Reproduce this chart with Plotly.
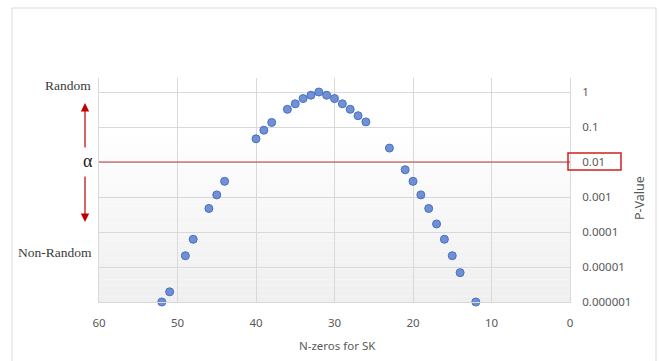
import plotly.graph_objects as go

# ---- data ----
n_zeros = [52, 51, 49, 48, 46, 45, 44, 40, 39, 38, 36, 35, 34, 33, 32,
           31, 30, 29, 28, 27, 26, 23, 21, 20, 19, 18, 17, 16, 15, 14, 12]
p_values = [1e-6, 1.95e-6, 2.1e-5, 6.2e-5, 4.7e-4, 1.15e-3, 2.8e-3,
            0.046, 0.081, 0.135, 0.32, 0.46, 0.65, 0.81, 1.0,
            0.81, 0.65, 0.46, 0.32, 0.21, 0.14, 0.025, 0.006, 0.0028,
            0.00115, 0.00047, 0.00017, 6.2e-5, 2.1e-5, 6.9e-6, 1e-6]
x_ticks = [60, 50, 40, 30, 20, 10, 0]
y_tickvals = [1, 0.1, 0.01, 0.001, 0.0001, 0.00001, 0.000001]
y_ticktext = ["1", "0.1", "0.01", "0.001", "0.0001", "0.00001", "0.000001"]
alpha_level = 0.01

W, H = 659, 361
L, R, T, B = 99, 570, 78, 302  # plot area pixel bounds
pw, ph = R - L, B - T


def px(x):
    return (x - L) / pw


def py(y):
    return (B - y) / ph


fig = go.Figure()
fig.add_trace(go.Scatter(
    x=n_zeros, y=p_values, mode="markers", cliponaxis=False,
    marker=dict(size=8, color="rgba(91,125,205,0.85)",
                line=dict(color="#4472c4", width=1)),
    hoverinfo="skip", showlegend=False))

shapes = []
# vertical gradient background of the plot area
N = 40
for i in range(N):
    t = i / N
    g = int(round(239 + (255 - 239) * min(1.0, t * 1.3)))
    shapes.append(dict(type="rect", xref="x domain", yref="y domain",
                       x0=0, x1=1, y0=i / N, y1=(i + 1) / N, layer="below",
                       line=dict(width=0),
                       fillcolor=f"rgb({g},{g},{g})"))
# alpha line
shapes.append(dict(type="line", xref="x", yref="y", x0=60, x1=0,
                   y0=alpha_level, y1=alpha_level,
                   line=dict(color="#b83c3c", width=1)))
# red box around 0.01
shapes.append(dict(type="rect", xref="paper", yref="paper",
                   x0=px(568), x1=px(621), y0=py(170), y1=py(153),
                   line=dict(color="#d02020", width=1.5)))
# outer chart border
shapes.append(dict(type="rect", xref="paper", yref="paper",
                   x0=px(12), x1=px(656), y0=py(366), y1=py(8),
                   line=dict(color="#d9d9d9", width=1)))

serif = dict(family="Liberation Serif", size=13.5, color="#3a3a3a")
annotations = [
    dict(text="Random", xref="paper", yref="paper", x=px(93), y=py(85),
         xanchor="right", yanchor="middle", showarrow=False, font=serif),
    dict(text="Non-Random", xref="paper", yref="paper", x=px(94), y=py(252),
         xanchor="right", yanchor="middle", showarrow=False, font=serif),
    dict(text="α", xref="paper", yref="paper", x=px(88), y=py(161),
         xanchor="center", yanchor="middle", showarrow=False,
         font=dict(family="Liberation Serif", size=18, color="#222222")),
    dict(text="", xref="paper", yref="paper", x=px(85), y=py(103),
         ax=0, ay=46, showarrow=True, arrowhead=2, arrowsize=1.4,
         arrowwidth=1.2, arrowcolor="#c00000"),
    dict(text="", xref="paper", yref="paper", x=px(85), y=py(222),
         ax=0, ay=-47, showarrow=True, arrowhead=2, arrowsize=1.4,
         arrowwidth=1.2, arrowcolor="#c00000"),
    dict(text="N-zeros for SK", xref="paper", yref="paper", x=px(337),
         y=py(345), xanchor="center", yanchor="middle", showarrow=False,
         font=dict(family="Noto Sans", size=11.5, color="#595959")),
    dict(text="P-Value", xref="paper", yref="paper", x=px(639), y=py(198),
         xanchor="center", yanchor="middle", showarrow=False, textangle=-90,
         font=dict(family="Noto Sans", size=12.5, color="#595959")),
]

fig.update_layout(
    width=W, height=H,
    margin=dict(l=L, r=W - R, t=T, b=H - B, autoexpand=False),
    paper_bgcolor="white", plot_bgcolor="rgba(0,0,0,0)",
    shapes=shapes, annotations=annotations, hovermode=False,
    font=dict(family="Noto Sans", size=11.5, color="#595959"),
    xaxis=dict(range=[60, 0], tickvals=x_ticks, showgrid=True,
               gridcolor="#d9d9d9", gridwidth=1, zeroline=False,
               showline=True, linecolor="#d9d9d9", linewidth=1,
               ticks="", ticklabelstandoff=10, fixedrange=True),
    yaxis=dict(type="log", range=[-6, 0.4], side="right",
               tickvals=y_tickvals, ticktext=y_ticktext, showgrid=True,
               gridcolor="#d9d9d9", gridwidth=1, zeroline=False,
               showline=True, mirror=True, linecolor="#d9d9d9",
               linewidth=1, ticks="", ticklabelstandoff=9,
               fixedrange=True),
)

fig.write_html("out.html")
